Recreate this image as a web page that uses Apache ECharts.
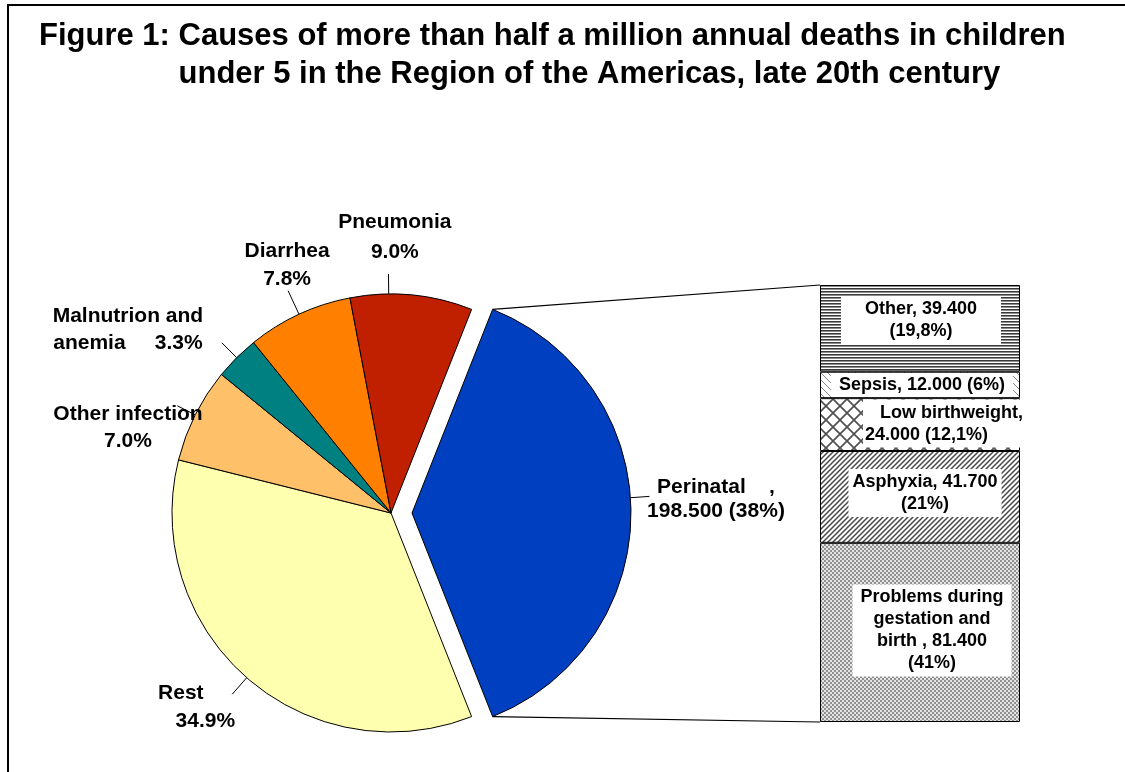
<!DOCTYPE html>
<html>
<head>
<meta charset="utf-8">
<script src="https://cdn.jsdelivr.net/npm/echarts@6/dist/echarts.min.js"></script>
<style>
html,body{margin:0;padding:0;background:#fff;}
#c{width:1125px;height:772px;}
</style>
</head>
<body>
<div id="c"></div>
<script>
// ---------------- data ----------------
const titleLine1 = 'Figure 1: Causes of more than half a million annual deaths in children';
const titleLine2 = 'under 5 in the Region of the Americas, late 20th century';
const titleIndent = 'Figure 1: ';

const pieNames  = ['Perinatal', 'Rest', 'Other infection', 'Malnutrion and anemia', 'Diarrhea', 'Pneumonia'];
const pieValues = [38.0, 34.9, 7.0, 3.3, 7.8, 9.0];
const pieLabels = ['Perinatal    ,\n198.500 (38%)', 'Rest\n   34.9%', 'Other infection\n7.0%',
                   'Malnutrion and\nanemia     3.3%', 'Diarrhea\n7.8%', 'Pneumonia\n9.0%'];

const barNames  = ['Problems during gestation and birth', 'Asphyxia', 'Low birthweight', 'Sepsis', 'Other'];
const barValues = [81.4, 41.7, 24.0, 12.0, 39.4];
const barLabels = ['Problems during\ngestation and\nbirth , 81.400\n(41%)', 'Asphyxia, 41.700\n(21%)',
                   '   Low birthweight,\n24.000 (12,1%)', 'Sepsis, 12.000 (6%)', 'Other, 39.400\n(19,8%)'];

// ---------------- styles ----------------
const FONT = 'Liberation Sans, Arial, sans-serif';
const pieColors = ['#0040C0', '#FFFFB0', '#FFC06A', '#008080', '#FF8000', '#C02000'];
const PIE = { cx: 391, cy: 513, r: 219, explode: 21 };
const GRID = { left: 820, top: 285, width: 200, height: 437 };
// label placement tweaks (pie order): nudge x/y, alignment, line angle tweak (deg), line length, line height
const pieLabelStyle = [
  { nx: 40,  ny: -14, align: 'center', da: 4, len: 19, lh: 24 },
  { nx: -59, ny: -4,  align: 'left',   da: 0, len: 22, lh: 28 },
  { nx: -27, ny: 33,  align: 'center', da: 0, len: 20, lh: 27 },
  { nx: -77, ny: 4,   align: 'center', da: 0, len: 21, lh: 27 },
  { nx: 7,   ny: -8,  align: 'center', da: 0, len: 26, lh: 28 },
  { nx: -21, ny: -13, align: 'center', da: 6, len: 20, lh: 30 }
];
const barLabelStyle = [
  { pad: [2, 8],  off: [12, -2],  align: 'center' },
  { pad: [2, 4],  off: [5, -4],   align: 'center' },
  { pad: [2, 2],  off: [-57, -1], align: 'left' },
  { pad: [1, 8],  off: [2, 0],    align: 'center' },
  { pad: [2, 24], off: [1, -8],   align: 'center' }
];

function tile(w, h, draw) {
  const c = document.createElement('canvas');
  c.width = w; c.height = h;
  const g = c.getContext('2d');
  g.fillStyle = '#fff'; g.fillRect(0, 0, w, h);
  draw(g);
  return { image: c, repeat: 'repeat' };
}
const barPatterns = [
  tile(4, 4, g => { g.fillStyle = '#e4e4e4'; g.fillRect(0, 0, 4, 4); g.fillStyle = '#6c6c6c';
    g.beginPath(); g.arc(1, 1, 0.95, 0, 7); g.fill(); g.beginPath(); g.arc(3, 3, 0.95, 0, 7); g.fill(); }),
  tile(5, 5, g => { g.strokeStyle = '#484848'; g.lineWidth = 1.5; g.beginPath();
    g.moveTo(-1, 6); g.lineTo(6, -1); g.moveTo(-1, 1); g.lineTo(1, -1); g.moveTo(4, 6); g.lineTo(6, 4); g.stroke(); }),
  tile(14, 14, g => { g.strokeStyle = '#505050'; g.lineWidth = 1.7; g.beginPath();
    g.moveTo(0, 0); g.lineTo(14, 14); g.moveTo(14, 0); g.lineTo(0, 14); g.stroke(); }),
  tile(7, 7, g => { g.strokeStyle = '#888'; g.lineWidth = 1; g.beginPath();
    g.moveTo(-1, -1); g.lineTo(8, 8); g.moveTo(6, -1); g.lineTo(8, 1); g.moveTo(-1, 6); g.lineTo(1, 8); g.stroke(); }),
  tile(4, 3, g => { g.fillStyle = '#3a3a3a'; g.fillRect(0, 0, 4, 1); g.fillStyle = '#8c8c8c'; g.fillRect(0, 1, 4, 1); })
];

// ---------------- geometry derived from data ----------------
const pieTotal = pieValues.reduce((a, b) => a + b, 0);
const startAngle = 180 * pieValues[0] / pieTotal;   // Perinatal centred on the right
const midAngles = [];
{ let acc = 0; pieValues.forEach(v => { midAngles.push(startAngle - (acc + v / 2) * 360 / pieTotal); acc += v; }); }
const rad = d => d * Math.PI / 180;
const explodedCenter = [PIE.cx + PIE.explode * Math.cos(rad(midAngles[0])), PIE.cy - PIE.explode * Math.sin(rad(midAngles[0]))];
function sliceCenter(i) { return i === 0 ? explodedCenter : [PIE.cx, PIE.cy]; }

function pieLabelLayout(params) {
  const i = params.dataIndex, s = pieLabelStyle[i], c = sliceCenter(i);
  const m = rad(midAngles[i]), a = rad(midAngles[i] + s.da);
  const x = c[0] + (PIE.r + 45) * Math.cos(m) + s.nx;
  const y = c[1] - (PIE.r + 45) * Math.sin(m) + s.ny;
  const p0 = [c[0] + PIE.r * Math.cos(a), c[1] - PIE.r * Math.sin(a)];
  const p1 = [c[0] + (PIE.r + s.len) * Math.cos(a), c[1] - (PIE.r + s.len) * Math.sin(a)];
  return { x: x, y: y, align: s.align, verticalAlign: 'middle', labelLinePoints: [p0, p1, p1] };
}

function pieData(visibleIdx) {
  return pieNames.map((n, i) => {
    const vis = visibleIdx(i);
    return {
      name: n, value: pieValues[i],
      itemStyle: vis ? { color: pieColors[i], borderColor: '#000', borderWidth: 1 }
                     : { color: 'rgba(0,0,0,0)', borderWidth: 0 },
      label: { show: vis, lineHeight: pieLabelStyle[i].lh, align: pieLabelStyle[i].align },
      labelLine: { show: vis }
    };
  });
}
const pieCommon = {
  type: 'pie', radius: PIE.r, startAngle: startAngle, clockwise: true,
  avoidLabelOverlap: false, animation: false, emphasis: { disabled: true },
  label: { position: 'outside', formatter: p => pieLabels[p.dataIndex], color: '#000',
           fontFamily: FONT, fontWeight: 'bold', fontSize: 21 },
  labelLine: { length: 20, length2: 0, lineStyle: { color: '#000', width: 1 } },
  labelLayout: pieLabelLayout
};

const barTotal = barValues.reduce((a, b) => a + b, 0);
const barSeries = barNames.map((n, i) => ({
  name: n, type: 'bar', stack: 'perinatal', barWidth: '100%', animation: false,
  data: [barValues[i]],
  itemStyle: { color: barPatterns[i], borderColor: '#000', borderWidth: 1 },
  emphasis: { disabled: true },
  label: { show: true, position: 'inside', formatter: () => barLabels[i], color: '#000',
           fontFamily: FONT, fontWeight: 'bold', fontSize: 18, lineHeight: 22, align: barLabelStyle[i].align,
           backgroundColor: '#fff', padding: barLabelStyle[i].pad, offset: barLabelStyle[i].off }
}));

// connector lines from exploded slice edges to bar corners
const half = rad(startAngle);
const sliceTop = [explodedCenter[0] + PIE.r * Math.cos(half), explodedCenter[1] - PIE.r * Math.sin(half)];
const sliceBot = [explodedCenter[0] + PIE.r * Math.cos(-half), explodedCenter[1] - PIE.r * Math.sin(-half)];

const chart = echarts.init(document.getElementById('c'), null, { renderer: 'canvas' });
chart.setOption({
  backgroundColor: '#fff',
  animation: false,
  title: {
    text: titleLine1 + '\n{g|' + titleIndent + '}' + titleLine2,
    left: 39, top: 17, padding: 0,
    textStyle: { fontFamily: FONT, fontWeight: 'bold', fontSize: 31, lineHeight: 38, color: '#000',
      rich: { g: { fontFamily: FONT, fontWeight: 'bold', fontSize: 31, lineHeight: 38, color: 'rgba(0,0,0,0)' } } }
  },
  grid: { left: GRID.left, top: GRID.top, width: GRID.width, height: GRID.height },
  xAxis: { type: 'category', data: ['Perinatal'], show: false },
  yAxis: { type: 'value', min: 0, max: barTotal, show: false },
  series: [
    Object.assign({}, pieCommon, { center: [PIE.cx, PIE.cy], data: pieData(i => i !== 0) }),
    Object.assign({}, pieCommon, { center: explodedCenter, data: pieData(i => i === 0) })
  ].concat(barSeries)
});

const pTop = chart.convertToPixel({ gridIndex: 0 }, [0, barTotal]);
const pBot = chart.convertToPixel({ gridIndex: 0 }, [0, 0]);
chart.setOption({
  graphic: [
    { type: 'rect', silent: true, z: -10, shape: { x: 8, y: 5, width: 1400, height: 1000 },
      style: { fill: 'none', stroke: '#000', lineWidth: 2 } },
    { type: 'line', silent: true, shape: { x1: sliceTop[0], y1: sliceTop[1], x2: GRID.left, y2: pTop[1] },
      style: { stroke: '#000', lineWidth: 1.2 } },
    { type: 'line', silent: true, shape: { x1: sliceBot[0], y1: sliceBot[1], x2: GRID.left, y2: pBot[1] },
      style: { stroke: '#000', lineWidth: 1.2 } }
  ]
});
</script>
</body>
</html>
